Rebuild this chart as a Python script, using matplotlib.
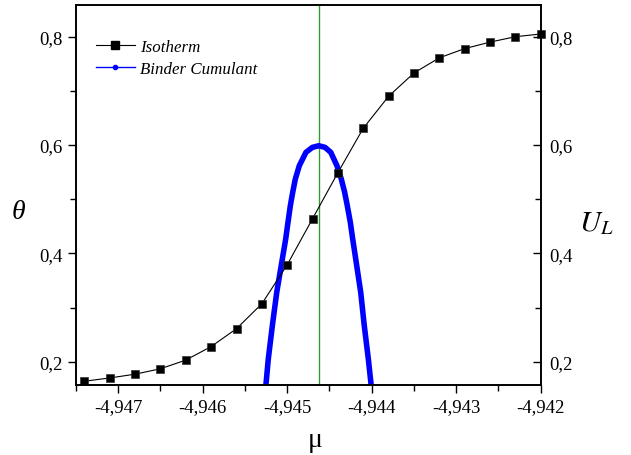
import matplotlib
matplotlib.use('Agg')
import matplotlib.pyplot as plt
from matplotlib.lines import Line2D
from matplotlib.ticker import MultipleLocator, FuncFormatter

plt.rcParams['font.family'] = ['Liberation Serif', 'DejaVu Serif']
plt.rcParams['mathtext.fontset'] = 'stix'

# --- Isotherm data ---
mu_iso = [-4.9474, -4.9471, -4.9468, -4.9465, -4.9462, -4.9459, -4.9456,
          -4.9453, -4.9450, -4.9447, -4.9444, -4.9441, -4.9438, -4.9435,
          -4.9432, -4.9429, -4.9426, -4.9423, -4.9420]
theta_iso = [0.164, 0.170, 0.177, 0.187, 0.203, 0.228, 0.261, 0.307, 0.379,
             0.464, 0.549, 0.631, 0.690, 0.733, 0.761, 0.778, 0.790, 0.800,
             0.805]

# --- Binder cumulant curve ---
mu_binder = [-4.945251, -4.945224, -4.945176, -4.945124, -4.945058, -4.945018,
             -4.944991, -4.944963, -4.944935, -4.944904, -4.944857, -4.944778,
             -4.944702, -4.944627, -4.944552, -4.944485, -4.944411, -4.944360,
             -4.944320, -4.944289, -4.944253, -4.944225, -4.944189, -4.944130,
             -4.944088, -4.944040, -4.944008]
ul_binder = [0.1588, 0.2050, 0.2665, 0.3281, 0.3894, 0.4265, 0.4573, 0.4880,
             0.5127, 0.5373, 0.5618, 0.5866, 0.5957, 0.5987, 0.5957, 0.5866,
             0.5618, 0.5373, 0.5127, 0.4880, 0.4573, 0.4265, 0.3894, 0.3281,
             0.2665, 0.2050, 0.1588]

mu_crit = -4.94462

fig = plt.figure(figsize=(6.31, 4.56), dpi=100)
ax = fig.add_axes([0.1204, 0.1535, 0.7365, 0.8333])

ax.axvline(mu_crit, color='#339933', lw=1.0, zorder=1)
ax.plot(mu_binder, ul_binder, color='#0000ff', lw=4.0, solid_joinstyle='round',
        zorder=2)
ax.plot(mu_iso, theta_iso, color='black', lw=0.8, marker='s', markersize=6,
        markeredgecolor='#333333', markeredgewidth=0.5, zorder=3,
        clip_on=False)

ax.set_xlim(-4.9475, -4.942)
ax.set_ylim(0.157, 0.8585)

comma_x = FuncFormatter(lambda v, p: f"{v:.3f}".replace('.', ','))
comma_y = FuncFormatter(lambda v, p: f"{v:.1f}".replace('.', ','))

ax.xaxis.set_major_locator(MultipleLocator(0.001))
ax.xaxis.set_minor_locator(MultipleLocator(0.0005))
ax.yaxis.set_major_locator(MultipleLocator(0.2))
ax.yaxis.set_minor_locator(MultipleLocator(0.1))
ax.xaxis.set_major_formatter(comma_x)
ax.yaxis.set_major_formatter(comma_y)
ax.tick_params(which='major', direction='out', length=6, width=1,
               labelsize=13.5, top=False, right=False)
ax.tick_params(which='minor', direction='out', length=4, width=1,
               top=False, right=False)

# right axis, ticks pointing in
ax2 = ax.twinx()
ax2.set_ylim(ax.get_ylim())
ax2.yaxis.set_major_locator(MultipleLocator(0.2))
ax2.yaxis.set_minor_locator(MultipleLocator(0.1))
ax2.yaxis.set_major_formatter(comma_y)
ax2.tick_params(which='major', direction='in', length=6, width=1,
                labelsize=13.5, pad=6)
ax2.tick_params(which='minor', direction='in', length=4, width=1)

for a in (ax, ax2):
    for s in a.spines.values():
        s.set_linewidth(1.2)

fig.text(0.030, 0.535, 'θ', fontsize=20, style='italic',
         ha='center', va='center')
fig.text(0.945, 0.51, r'$U_L$', fontsize=21, ha='center', va='center')
fig.text(0.500, 0.035, 'μ', fontsize=20, ha='center', va='center')

handles = [
    Line2D([], [], color='black', lw=0.8, marker='s', markersize=6),
    Line2D([], [], color='#0000ff', lw=1.0, marker='o', markersize=3),
]
ax.legend(handles, ['Isotherm', 'Binder Cumulant'], loc='upper left',
          bbox_to_anchor=(0.01, 0.95), frameon=False,
          prop={'style': 'italic', 'size': 12.2}, handlelength=2.3,
          handletextpad=0.3, labelspacing=0.35)

fig.savefig('out.png', dpi=100)
